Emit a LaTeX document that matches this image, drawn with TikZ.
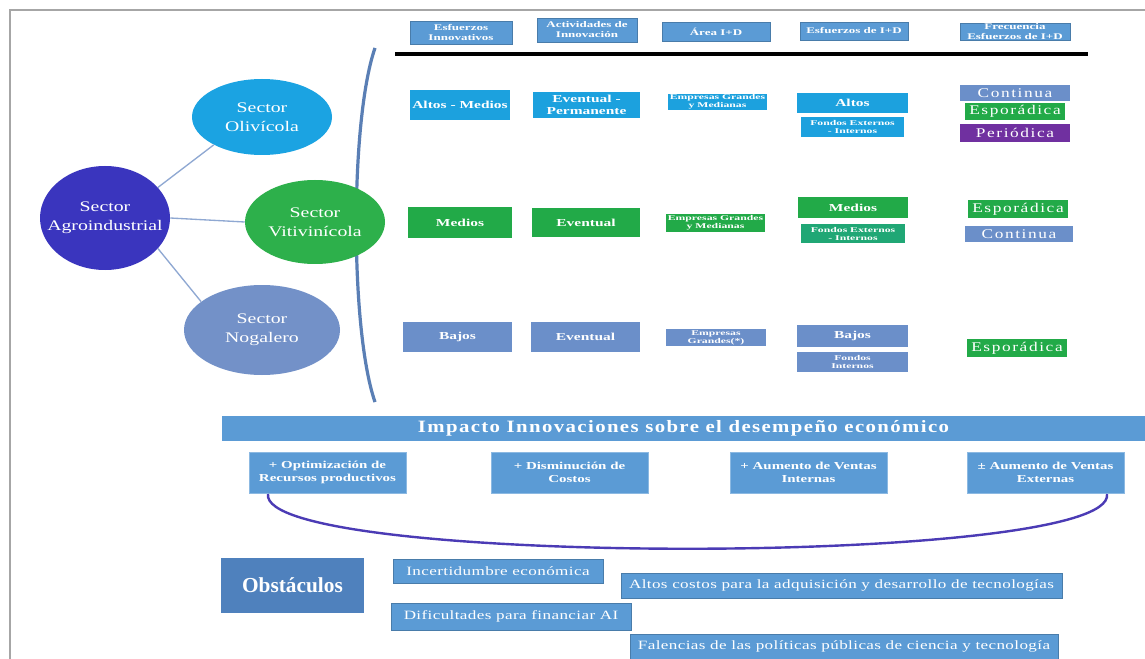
\documentclass[tikz,border=0pt]{standalone}
\usepackage{fontspec}
\setmainfont{Liberation Serif}
\newfontfamily\fhdr[FakeStretch=1.5]{Liberation Serif}
\newfontfamily\frow[FakeStretch=1.45]{Liberation Serif}
\newfontfamily\fsm[FakeStretch=1.6]{Liberation Serif}
\newfontfamily\ffq[FakeStretch=1.3,LetterSpace=12]{Liberation Serif}
\newfontfamily\fimp[FakeStretch=1.4]{Liberation Serif}
\newfontfamily\ftitle[FakeStretch=1.2,LetterSpace=8]{Liberation Serif}
\newfontfamily\fob[FakeStretch=1.35,LetterSpace=3]{Liberation Serif}
\newfontfamily\fsect[FakeStretch=1.35]{Liberation Serif}
\usetikzlibrary{shapes.geometric}
\definecolor{hdrblue}{HTML}{5B9BD5}
\definecolor{skyb}{HTML}{1CA1DE}
\definecolor{grn}{HTML}{22AA48}
\definecolor{steel}{HTML}{6B8FC9}
\definecolor{purp}{HTML}{7030A0}
\definecolor{indig}{HTML}{3A35BE}
\definecolor{olive}{HTML}{1BA3E2}
\definecolor{viti}{HTML}{2DB04B}
\definecolor{noga}{HTML}{7391C8}
\definecolor{obst}{HTML}{4F81BD}
\definecolor{linkc}{HTML}{8FA8D2}
\definecolor{brack}{HTML}{5A7FB5}
\definecolor{arcc}{HTML}{4B3BB5}
\newcommand{\bx}[7]{\node[#2, minimum width={(#5-#3)*0.75pt}, minimum height={(#6-#4)*0.75pt}] (#1) at ({(#3+#5)/2},{(#4+#6)/2}) {#7};}
\newcommand{\twol}[2]{\clap{#1}\\\clap{#2}}
\begin{document}
\begin{tikzpicture}[x=0.75pt,y=-0.75pt,
  base/.style={rectangle, inner sep=0pt, text=white, align=center},
  hdr/.style={base, fill=hdrblue, draw=hdrblue!80!black, line width=0.4pt, font=\fhdr\fontsize{6.5}{7.5}\selectfont\bfseries},
  rb/.style={base, fill=skyb, font=\frow\fontsize{8}{9}\selectfont\bfseries},
  rbs/.style={base, fill=skyb, font=\fsm\fontsize{5.5}{6}\selectfont\bfseries},
  gb/.style={base, fill=grn, font=\frow\fontsize{8}{9}\selectfont\bfseries},
  gbs/.style={base, fill=grn, font=\fsm\fontsize{5.5}{6}\selectfont\bfseries},
  sb/.style={base, fill=steel, font=\frow\fontsize{8}{9}\selectfont\bfseries},
  sbs/.style={base, fill=steel, font=\fsm\fontsize{5.5}{6}\selectfont\bfseries},
  fq/.style={base, font=\ffq\fontsize{10}{11}\selectfont},
  sect/.style={ellipse, inner sep=0pt, text=white, align=center, font=\fsect\fontsize{11}{14}\selectfont},
  link/.style={draw=linkc, line width=1pt},
  imp/.style={base, fill=hdrblue, draw=hdrblue!70!white, line width=0.6pt, font=\fimp\fontsize{8}{10}\selectfont\bfseries},
  ob/.style={base, fill=hdrblue, draw=hdrblue!80!black, line width=0.4pt, font=\fob\fontsize{9.5}{11}\selectfont}
]
\useasboundingbox (0,0) rectangle (1145,659);
\fill[white] (0,0) rectangle (1145,659);
% frame
\draw[gray!70, line width=1.2pt] (10,659) -- (10,10) -- (1145,10);

% bracket (behind ellipses)
\coordinate (brT) at (375,48);
\coordinate (brB) at (375,402);
\draw[brack, line width=2.4pt] (brT) .. controls (350,120) and (350,330) .. (brB);

% sector ellipses
\node[sect, fill=indig, minimum width=130*0.75pt, minimum height=104*0.75pt] (agro) at (105,218) {\twol{Sector}{Agroindustrial}};
\node[sect, fill=olive, minimum width=140*0.75pt, minimum height=76*0.75pt] (oli) at (262,117) {\twol{Sector}{Olivícola}};
\node[sect, fill=viti, minimum width=140*0.75pt, minimum height=84*0.75pt] (viti) at (315,222) {\twol{Sector}{Vitivinícola}};
\node[sect, fill=noga, minimum width=156*0.75pt, minimum height=90*0.75pt] (nog) at (262,330) {\twol{Sector}{Nogalero}};
\draw[link] (agro.30) -- (oli.210);
\draw[link] (agro.east) -- (viti.west);
\draw[link] (agro.-30) -- (nog.155);

% header
\bx{h1}{hdr}{410}{21}{512}{44}{Esfuerzos\\Innovativos}
\bx{h2}{hdr}{537}{18}{637}{42}{Actividades de\\Innovación}
\bx{h3}{hdr}{662}{22}{770}{41}{Área I+D}
\bx{h4}{hdr}{800}{22}{908}{40}{Esfuerzos  de I+D}
\bx{h5}{hdr}{960}{23}{1070}{40}{Frecuencia\\Esfuerzos de I+D}
\coordinate (hlL) at (395,54);
\coordinate (hlR) at (1088,54);
\draw[black, line width=2.6pt] (hlL) -- (hlR);

% row 1
\bx{a1}{rb}{410}{90}{510}{120}{Altos - Medios}
\bx{a2}{rb}{533}{92}{640}{118}{Eventual -\\Permanente}
\bx{a3}{rbs}{668}{94}{767}{110}{Empresas Grandes\\y Medianas}
\bx{a4}{rb}{797}{93}{908}{113}{Altos}
\bx{a5}{rbs}{801}{117}{904}{137}{Fondos Externos\\- Internos}
\bx{a6}{fq, fill=steel}{960}{85}{1070}{101}{Continua}
\bx{a7}{fq, fill=grn}{965}{103}{1065}{120}{Esporádica}
\bx{a8}{fq, fill=purp}{960}{124}{1070}{142}{Periódica}

% row 2
\bx{b1}{gb}{408}{207}{512}{238}{Medios}
\bx{b2}{gb}{532}{208}{640}{237}{Eventual}
\bx{b3}{gbs}{666}{214}{765}{232}{Empresas Grandes\\y Medianas}
\bx{b4}{gb}{798}{197}{908}{218}{Medios}
\bx{b5}{gbs, fill=grn!70!skyb}{801}{224}{905}{243}{Fondos Externos\\- Internos}
\bx{b6}{fq, fill=grn}{968}{200}{1068}{218}{Esporádica}
\bx{b7}{fq, fill=steel}{965}{226}{1073}{242}{Continua}

% row 3
\bx{c1}{sb}{403}{322}{512}{352}{Bajos}
\bx{c2}{sb}{531}{322}{640}{352}{Eventual}
\bx{c3}{sbs}{666}{329}{766}{346}{Empresas\\Grandes(*)}
\bx{c4}{sb}{797}{325}{908}{347}{Bajos}
\bx{c5}{sbs}{797}{352}{908}{372}{Fondos\\Internos}
\bx{c6}{fq, fill=grn}{967}{339}{1067}{357}{Esporádica}

% impact
\bx{imp}{base, fill=hdrblue, font=\ftitle\fontsize{13}{15}\selectfont\bfseries}{222}{416}{1145}{441}{Impacto Innovaciones sobre el desempeño económico}
\bx{i1}{imp}{249}{452}{406}{493}{+ Optimización de\\Recursos productivos}
\bx{i2}{imp}{491}{452}{648}{493}{+ Disminución de\\Costos}
\bx{i3}{imp}{730}{452}{887}{493}{+ Aumento de Ventas\\Internas}
\bx{i4}{imp}{967}{452}{1124}{493}{± Aumento de Ventas\\Externas}
\coordinate (arcL) at (268,494);
\coordinate (arcR) at (1107,494);
\draw[arcc, line width=1.8pt] (arcL) .. controls (258,567) and (1117,567) .. (arcR);

% obstacles
\bx{ob}{base, fill=obst, font=\fontsize{16}{18}\selectfont\bfseries}{221}{558}{364}{613}{Obstáculos}
\bx{o1}{ob}{393}{559}{603}{583}{Incertidumbre  económica}
\bx{o2}{ob}{621}{573}{1062}{598}{Altos costos para la adquisición y desarrollo de tecnologías}
\bx{o3}{ob}{391}{603}{631}{630}{Dificultades para financiar AI}
\bx{o4}{ob}{630}{634}{1058}{659}{Falencias de las políticas públicas de ciencia y tecnología}
\end{tikzpicture}
\end{document}
